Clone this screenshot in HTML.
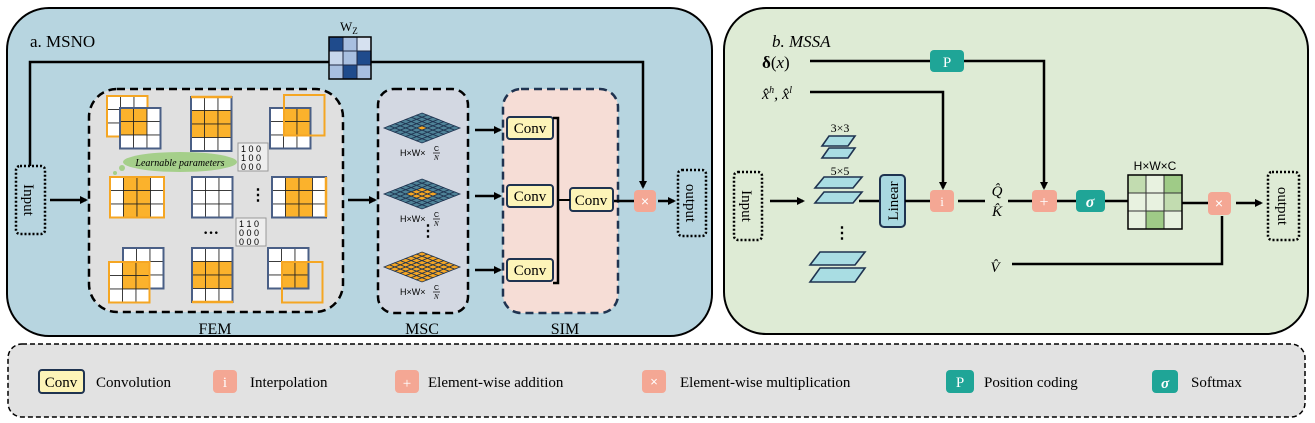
<!DOCTYPE html>
<html><head><meta charset="utf-8"><style>
html,body{margin:0;padding:0;background:#fff;}
svg{display:block;font-family:"Liberation Serif",serif;}
</style></head><body>
<svg id="s" width="1315" height="423" viewBox="0 0 1315 423" xmlns="http://www.w3.org/2000/svg">
<defs>
<marker id="ar" markerWidth="8" markerHeight="8" refX="6" refY="4" orient="auto" markerUnits="userSpaceOnUse"><path d="M0,0 L8,4 L0,8 Z" fill="#000"/></marker>
</defs>
<rect x="7" y="8" width="705" height="328" rx="42" fill="#b7d5e0" stroke="#000" stroke-width="2"/>
<rect x="724" y="8" width="584" height="326" rx="42" fill="#deebd5" stroke="#000" stroke-width="2"/>
<rect x="8" y="344" width="1297" height="73" rx="14" fill="#e2e2e2" stroke="#000" stroke-width="1.5" stroke-dasharray="5,3"/>

<text x="30" y="47" font-size="17">a. MSNO</text>
<text x="772" y="47" font-size="17" font-style="italic">b. MSSA</text>

<rect x="89" y="89" width="254" height="223" rx="28" fill="#e0e0e0" stroke="#000" stroke-width="2.5" stroke-dasharray="8,5"/>
<rect x="378" y="89" width="90" height="224" rx="16" fill="#d3d8e2" stroke="#000" stroke-width="2.5" stroke-dasharray="8,5"/>
<rect x="503" y="89" width="115" height="224" rx="18" fill="#f6ddd6" stroke="#1f3350" stroke-width="2.5" stroke-dasharray="8,5"/>
<text x="215" y="334" font-size="16" text-anchor="middle">FEM</text>
<text x="422" y="334" font-size="16" text-anchor="middle">MSC</text>
<text x="565" y="334" font-size="16" text-anchor="middle">SIM</text>

<polyline points="30,166 30,62 643,62 643,187" fill="none" stroke="#000" stroke-width="2.5" marker-end="url(#ar)"/>
<g stroke="#1f2a44" stroke-width="1">
<rect x="329" y="37" width="14" height="14" fill="#1f4b8c"/><rect x="343" y="37" width="14" height="14" fill="#a8bfe0"/><rect x="357" y="37" width="14" height="14" fill="#d6e1f0"/>
<rect x="329" y="51" width="14" height="14" fill="#c8d7ec"/><rect x="343" y="51" width="14" height="14" fill="#a8bfe0"/><rect x="357" y="51" width="14" height="14" fill="#1f4b8c"/>
<rect x="329" y="65" width="14" height="14" fill="#a8bfe0"/><rect x="343" y="65" width="14" height="14" fill="#1f4b8c"/><rect x="357" y="65" width="14" height="14" fill="#a8bfe0"/>
</g>
<rect x="329" y="37" width="42" height="42" fill="none" stroke="#000" stroke-width="1.5"/>
<text x="340" y="31" font-size="13">W<tspan font-size="9" dy="3">Z</tspan></text>

<rect x="16" y="166" width="29" height="68" rx="4" fill="none" stroke="#000" stroke-width="2.5" stroke-dasharray="2,2"/>
<text transform="translate(24,200) rotate(90)" font-size="15" text-anchor="middle">Input</text>
<line x1="50" y1="200" x2="86" y2="200" stroke="#000" stroke-width="2.5" marker-end="url(#ar)"/>
<line x1="348" y1="200" x2="375" y2="200" stroke="#000" stroke-width="2.5" marker-end="url(#ar)"/>
<rect x="678" y="170" width="28" height="66" rx="4" fill="none" stroke="#000" stroke-width="2.5" stroke-dasharray="2,2"/>
<text transform="translate(686,203) rotate(90)" font-size="15" text-anchor="middle">output</text>
<line x1="658" y1="201" x2="674" y2="201" stroke="#000" stroke-width="2.5" marker-end="url(#ar)"/>
<line x1="612" y1="201" x2="636" y2="201" stroke="#000" stroke-width="2.5"/>
<rect x="634" y="190" width="22" height="22" rx="4" fill="#f4a794"/>
<text x="645" y="206" font-size="14" fill="#fff" text-anchor="middle" font-family="Liberation Sans,sans-serif">×</text>

<g id="fem"></g>

<ellipse cx="180" cy="162" rx="57" ry="10" fill="#a5cf8a"/>
<circle cx="122" cy="168" r="3" fill="#a5cf8a"/><circle cx="115" cy="173" r="2" fill="#a5cf8a"/>
<text x="180" y="166" font-size="10" text-anchor="middle" font-style="italic">Learnable parameters</text>
<g font-size="9" font-family="Liberation Sans,sans-serif">
<rect x="238" y="143" width="30" height="28" fill="#eee" stroke="#999"/>
<text x="241" y="152">1 0 0</text><text x="241" y="161">1 0 0</text><text x="241" y="170">0 0 0</text>
<rect x="236" y="218" width="30" height="28" fill="#eee" stroke="#999"/>
<text x="239" y="227">1 1 0</text><text x="239" y="236">0 0 0</text><text x="239" y="245">0 0 0</text>
</g>
<text x="250" y="200" font-size="16" font-weight="bold">⋮</text>
<text x="203" y="238" font-size="16" font-weight="bold">···</text>

<g id="msc"></g>
<text x="420" y="236" font-size="16" font-weight="bold">⋮</text>

<g font-size="15">
<rect x="507" y="117" width="46" height="22" rx="3" fill="#fdf4b8" stroke="#1f3350" stroke-width="2"/><text x="530" y="133" text-anchor="middle">Conv</text>
<rect x="507" y="185" width="46" height="22" rx="3" fill="#fdf4b8" stroke="#1f3350" stroke-width="2"/><text x="530" y="201" text-anchor="middle">Conv</text>
<rect x="507" y="259" width="46" height="22" rx="3" fill="#fdf4b8" stroke="#1f3350" stroke-width="2"/><text x="530" y="275" text-anchor="middle">Conv</text>
<rect x="570" y="188" width="43" height="23" rx="3" fill="#fdf4b8" stroke="#1f3350" stroke-width="2"/><text x="591" y="205" text-anchor="middle">Conv</text>
</g>
<polyline points="553,118 558,118 558,283 553,283" fill="none" stroke="#000" stroke-width="2.5"/>
<line x1="558" y1="200" x2="570" y2="200" stroke="#000" stroke-width="2"/>
<line x1="475" y1="130" x2="500" y2="130" stroke="#000" stroke-width="2.5" marker-end="url(#ar)"/>
<line x1="475" y1="196" x2="500" y2="196" stroke="#000" stroke-width="2.5" marker-end="url(#ar)"/>
<line x1="475" y1="270" x2="500" y2="270" stroke="#000" stroke-width="2.5" marker-end="url(#ar)"/>

<text x="762" y="68" font-size="17"><tspan font-weight="bold">δ</tspan>(<tspan font-style="italic">x</tspan>)</text>
<text x="762" y="99" font-size="16" font-style="italic">x̂<tspan font-size="10" dy="-6">h</tspan><tspan dy="6">, x̂</tspan><tspan font-size="10" dy="-6">l</tspan></text>
<polyline points="810,61 930,61" stroke="#000" stroke-width="2.5"/>
<rect x="930" y="50" width="34" height="22" rx="4" fill="#1fa597"/>
<text x="947" y="67" font-size="15" fill="#fff" text-anchor="middle">P</text>
<polyline points="964,61 1044,61 1044,188" fill="none" stroke="#000" stroke-width="2.5" marker-end="url(#ar)"/>
<polyline points="810,92 943,92 943,188" fill="none" stroke="#000" stroke-width="2.5" marker-end="url(#ar)"/>

<rect x="734" y="172" width="28" height="68" rx="4" fill="none" stroke="#000" stroke-width="2.5" stroke-dasharray="2,2"/>
<text transform="translate(742,206) rotate(90)" font-size="15" text-anchor="middle">Input</text>
<line x1="770" y1="201" x2="803" y2="201" stroke="#000" stroke-width="2.5" marker-end="url(#ar)"/>

<g fill="#a9dde3" stroke="#1f3350" stroke-width="1.6">
<polygon points="829,136 855,136 848,146 822,146"/><polygon points="829,148 855,148 848,158 822,158"/>
<polygon points="824,177 862,177 853,188 815,188"/><polygon points="824,192 862,192 853,203 815,203"/>
<polygon points="820,252 865,252 855,265 810,265"/><polygon points="820,268 865,268 855,282 810,282"/>
</g>
<text x="840" y="132" font-size="12" text-anchor="middle">3×3</text>
<text x="840" y="175" font-size="12" text-anchor="middle">5×5</text>
<text x="834" y="238" font-size="16" font-weight="bold">⋮</text>
<line x1="859" y1="201" x2="880" y2="201" stroke="#000" stroke-width="2.5"/>
<rect x="880" y="175" width="25" height="52" rx="4" fill="#a9d8e0" stroke="#1f3350" stroke-width="2"/>
<text transform="translate(898,201) rotate(-90)" font-size="15" text-anchor="middle">Linear</text>
<line x1="905" y1="201" x2="930" y2="201" stroke="#000" stroke-width="2.5"/>
<rect x="930" y="190" width="24" height="22" rx="4" fill="#f4a794"/>
<text x="942" y="206" font-size="13" fill="#fff" text-anchor="middle">i</text>
<line x1="958" y1="201" x2="985" y2="201" stroke="#000" stroke-width="2.5"/>
<text x="997" y="196" font-size="15" font-style="italic" text-anchor="middle">Q̂</text>
<text x="997" y="216" font-size="15" font-style="italic" text-anchor="middle">K̂</text>
<line x1="1008" y1="201" x2="1032" y2="201" stroke="#000" stroke-width="2.5"/>
<rect x="1032" y="190" width="25" height="22" rx="4" fill="#f4a794"/>
<text x="1044" y="207" font-size="16" fill="#fff" text-anchor="middle">+</text>
<line x1="1057" y1="201" x2="1077" y2="201" stroke="#000" stroke-width="2.5"/>
<rect x="1076" y="190" width="29" height="22" rx="4" fill="#1fa597"/>
<text x="1090" y="207" font-size="16" fill="#fff" font-weight="bold" font-style="italic" text-anchor="middle">σ</text>
<line x1="1105" y1="201" x2="1128" y2="201" stroke="#000" stroke-width="2.5"/>
<g stroke="#333" stroke-width="1">
<rect x="1128" y="175" width="18" height="18" fill="#c2dcb0"/><rect x="1146" y="175" width="18" height="18" fill="#e8f2e0"/><rect x="1164" y="175" width="18" height="18" fill="#9fcb87"/>
<rect x="1128" y="193" width="18" height="18" fill="#e8f2e0"/><rect x="1146" y="193" width="18" height="18" fill="#e8f2e0"/><rect x="1164" y="193" width="18" height="18" fill="#c2dcb0"/>
<rect x="1128" y="211" width="18" height="18" fill="#e8f2e0"/><rect x="1146" y="211" width="18" height="18" fill="#9fcb87"/><rect x="1164" y="211" width="18" height="18" fill="#e8f2e0"/>
</g>
<rect x="1128" y="175" width="54" height="54" fill="none" stroke="#000" stroke-width="1.5"/>
<text x="1155" y="170" font-size="12" text-anchor="middle" font-family="Liberation Sans,sans-serif">H×W×C</text>
<line x1="1182" y1="203" x2="1208" y2="203" stroke="#000" stroke-width="2.5"/>
<rect x="1208" y="192" width="23" height="23" rx="4" fill="#f4a794"/>
<text x="1219" y="208" font-size="14" fill="#fff" text-anchor="middle" font-family="Liberation Sans,sans-serif">×</text>
<line x1="1236" y1="203" x2="1261" y2="203" stroke="#000" stroke-width="2.5" marker-end="url(#ar)"/>
<rect x="1268" y="172" width="31" height="68" rx="4" fill="none" stroke="#000" stroke-width="2.5" stroke-dasharray="2,2"/>
<text transform="translate(1278,206) rotate(90)" font-size="15" text-anchor="middle">output</text>
<text x="995" y="272" font-size="15" font-style="italic" text-anchor="middle">V̂</text>
<polyline points="1012,264 1222,264 1222,216" fill="none" stroke="#000" stroke-width="2.5"/>

<g font-size="15">
<rect x="39" y="370" width="45" height="23" rx="3" fill="#fdf4b8" stroke="#1f3350" stroke-width="2"/><text x="61" y="387" text-anchor="middle">Conv</text>
<text x="96" y="387">Convolution</text>
<rect x="213" y="370" width="24" height="23" rx="4" fill="#f4a794"/><text x="225" y="387" fill="#fff" text-anchor="middle">i</text>
<text x="250" y="387">Interpolation</text>
<rect x="395" y="370" width="24" height="23" rx="4" fill="#f4a794"/><text x="407" y="388" fill="#fff" text-anchor="middle">+</text>
<text x="428" y="387">Element-wise addition</text>
<rect x="642" y="370" width="24" height="23" rx="4" fill="#f4a794"/><text x="654" y="386" fill="#fff" font-size="13" text-anchor="middle" font-family="Liberation Sans,sans-serif">×</text>
<text x="680" y="387">Element-wise multiplication</text>
<rect x="946" y="370" width="28" height="23" rx="4" fill="#1fa597"/><text x="960" y="387" fill="#fff" text-anchor="middle">P</text>
<text x="984" y="387">Position coding</text>
<rect x="1152" y="370" width="26" height="23" rx="4" fill="#1fa597"/><text x="1165" y="388" fill="#fff" font-weight="bold" font-style="italic" text-anchor="middle">σ</text>
<text x="1191" y="387">Softmax</text>
</g>
</svg>
<script>
var NS="http://www.w3.org/2000/svg";
function el(p,t,a){var e=document.createElementNS(NS,t);for(var k in a)e.setAttribute(k,a[k]);p.appendChild(e);return e;}
var fem=document.getElementById("fem");
var O="#fbb22c",B="#4a5f86",Y="#f5a623";
function grid(x,y,c,r,s,st,f){for(var i=0;i<r;i++)for(var j=0;j<c;j++)el(fem,"rect",{x:x+j*s,y:y+i*s,width:s,height:s,fill:f(i,j)?O:"#fff",stroke:"#222","stroke-width":0.8});el(fem,"rect",{x:x,y:y,width:c*s,height:r*s,fill:"none",stroke:st,"stroke-width":2});}
var W=function(){return false};
grid(107,96,3,3,13.5,Y,W);grid(120,108,3,3,13.5,B,function(i,j){return i<2&&j<2});
grid(191,97,3,4,13.5,B,function(i){return i==1||i==2});el(fem,"line",{x1:191,y1:97,x2:232,y2:97,stroke:Y,"stroke-width":2.5});
grid(270,108,3,3,13.5,B,function(i,j){return i<2&&j>0});el(fem,"rect",{x:284,y:95,width:40.5,height:40.5,fill:"none",stroke:Y,"stroke-width":2});
grid(110,177,4,3,13.5,Y,function(i,j){return j==1||j==2});
grid(192,177,3,3,13.5,B,W);
grid(272,177,4,3,13.5,B,function(i,j){return j==1||j==2});el(fem,"line",{x1:326,y1:177,x2:326,y2:217,stroke:Y,"stroke-width":2.5});
grid(123,248,3,3,13.5,B,function(i,j){return i>0&&j<2});grid(109,262,3,3,13.5,Y,function(i,j){return i<2&&j>0});
grid(192,248,3,4,13.5,B,function(i){return i==1||i==2});el(fem,"line",{x1:192,y1:302,x2:233,y2:302,stroke:Y,"stroke-width":2.5});
grid(268,248,3,3,13.5,B,function(i,j){return i>0&&j>0});el(fem,"rect",{x:282,y:262,width:40.5,height:40.5,fill:"none",stroke:Y,"stroke-width":2});
var msc=document.getElementById("msc");
function dia(cx,cy,k){var hw=38,hh=15,n=7;
 for(var i=0;i<n;i++)for(var j=0;j<n;j++){var u0=i/n-0.5,v0=j/n-0.5,u1=(i+1)/n-0.5,v1=(j+1)/n-0.5;
  function P(u,v){return (cx+(u-v)*hw)+","+(cy+(u+v)*hh);}
  var on=Math.abs(i-3)<=k&&Math.abs(j-3)<=k;
  el(msc,"polygon",{points:P(u0,v0)+" "+P(u1,v0)+" "+P(u1,v1)+" "+P(u0,v1),fill:on?"#f5a623":"#4e8297",stroke:"#1f3350","stroke-width":0.8});}
 var t=el(msc,"text",{x:cx-22,y:cy+28,"font-size":9,"font-family":"Liberation Sans,sans-serif"});t.textContent="H×W×";
 var a=el(msc,"text",{x:cx+12,y:cy+23,"font-size":7,"font-family":"Liberation Sans,sans-serif"});a.textContent="C";
 el(msc,"line",{x1:cx+11,y1:cy+25,x2:cx+18,y2:cy+25,stroke:"#000","stroke-width":0.7});
 var b=el(msc,"text",{x:cx+12,y:cy+32,"font-size":7,"font-style":"italic"});b.textContent="N";}
dia(422,128,0);dia(422,194,1);dia(422,267,3);
</script>
</body></html>
